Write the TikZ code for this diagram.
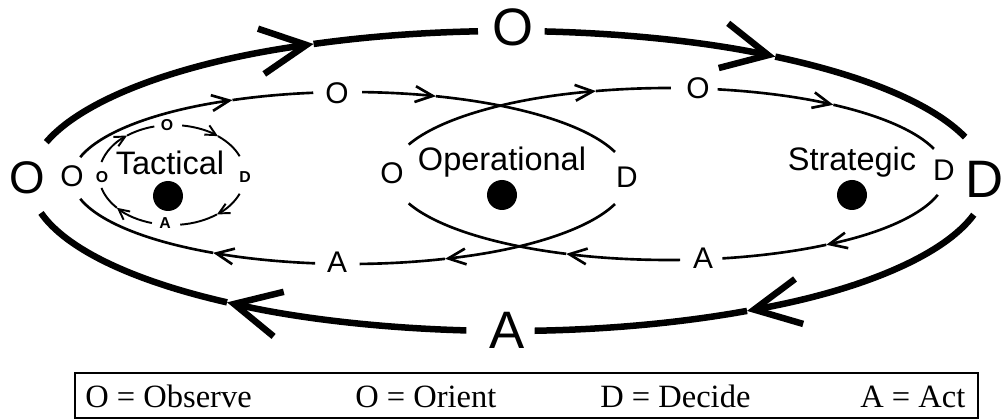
\documentclass[tikz,border=0pt]{standalone}
\usepackage{fontspec}
\setmainfont{Liberation Serif}
\setsansfont{Liberation Sans}
\usetikzlibrary{arrows.meta}

% one clockwise piece of a loop: centre, x radius, y radius, from, to, style
\newcommand{\looppart}[6]{%
  \draw[#6] (#1) ++(#4:#2 and #3)
    arc[start angle=#4, end angle=#5, x radius=#2, y radius=#3];}

\begin{document}
\begin{tikzpicture}[x=0.02cm, y=0.02cm,
    outer/.style={line width=3.7pt},
    ring/.style={line width=1.5pt},
    tac/.style={line width=1.1pt},
    bigtip/.style={-{Straight Barb[length=26pt, width=26pt]}},
    midtip/.style={-{Straight Barb[length=10pt, width=9pt]}},
    smalltip/.style={-{Straight Barb[length=6pt, width=6pt]}},
    biglabel/.style={font=\sffamily\fontsize{30}{32}\selectfont, inner sep=0pt},
    midlabel/.style={font=\sffamily\fontsize{17}{19}\selectfont, inner sep=0pt},
    taclabel/.style={font=\sffamily\bfseries\fontsize{9}{10}\selectfont, inner sep=0pt},
    tier/.style={font=\sffamily\fontsize{18.5}{20}\selectfont, inner sep=0pt},
    hub/.style={circle, fill=black, minimum size=0.6cm, inner sep=0pt},
    keytext/.style={font=\fontsize{18.5}{20}\selectfont, anchor=base west, inner sep=0pt}
]
    \useasboundingbox (0,0) rectangle (1004,419);

    \coordinate (oc) at (508,238);
    \coordinate (lc) at (350,241);
    \coordinate (rc) at (669,245);
    \coordinate (tc) at (172,244);

    % outer loop
    \foreach \a/\b/\c in {165/114/93.6, 85.6/56/17, -13/-60/-86.8, -95/-126/-167.7} {
        \looppart{oc}{478}{150}{\a}{\b}{outer, bigtip}
        \looppart{oc}{478}{150}{\b}{\c}{outer}
    }
    % left and right loops, crossing in the middle
    \foreach \a/\b/\c in {166/115/97.6, 87.5/72/17.6, -17.6/-70/-88, -97.2/-119.5/-166} {
        \looppart{lc}{278}{86}{\a}{\b}{ring, midtip}
        \looppart{lc}{278}{86}{\b}{\c}{ring}
    }
    \foreach \a/\b/\c in {160/105.3/89.6, 79.9/53.6/17, -14/-55.4/-78.9, -87.7/-111.8/-160} {
        \looppart{rc}{277}{86}{\a}{\b}{ring, midtip}
        \looppart{rc}{277}{86}{\b}{\c}{ring}
    }
    % tactical loop
    \foreach \a/\b/\c in {165/128/104, 82/51/22, -22/-52/-83.5, -106/-139/-165} {
        \looppart{tc}{73}{50}{\a}{\b}{tac, smalltip}
        \looppart{tc}{73}{50}{\b}{\c}{tac}
    }

    \node[biglabel] (oOut) at (513,392) {O};
    \node[biglabel] (dOut) at (985,240) {D};
    \node[biglabel] (aOut) at (507,89) {A};
    \node[biglabel, font=\sffamily\fontsize{26}{28}\selectfont] (sOut) at (27,241) {O};

    \node[midlabel] (sLeft) at (72,243) {O};
    \node[midlabel] (oLeft) at (337,326) {O};
    \node[midlabel] (dLeft) at (627,242) {D};
    \node[midlabel] (aLeft) at (337,157) {A};
    \node[midlabel] (sRight) at (392,246) {O};
    \node[midlabel] (oRight) at (698,331) {O};
    \node[midlabel] (dRight) at (944,249) {D};
    \node[midlabel] (aRight) at (703,161) {A};

    \node[taclabel] (oTac) at (167,294) {O};
    \node[taclabel] (sTac) at (102,242) {O};
    \node[taclabel] (dTac) at (245,242) {D};
    \node[taclabel] (aTac) at (165,196) {A};

    \node[tier] (tactical) at (170,256) {Tactical};
    \node[tier] (operational) at (502,257) {Operational};
    \node[tier] (strategic) at (852,257) {Strategic};
    \node[hub] (tacHub) at (168,223) {};
    \node[hub] (opHub) at (502,224) {};
    \node[hub] (strHub) at (852,224) {};

    % key
    \node[draw, line width=1pt, minimum width=18.06cm, minimum height=0.9cm, inner sep=0pt] (key) at (526.5,23.5) {};
    \node[keytext] (kObs) at (85,11) {O = Observe};
    \node[keytext] (kOri) at (355,11) {O = Orient};
    \node[keytext] (kDec) at (600,11) {D = Decide};
    \node[keytext] (kAct) at (860,11) {A = Act};
\end{tikzpicture}
\end{document}
